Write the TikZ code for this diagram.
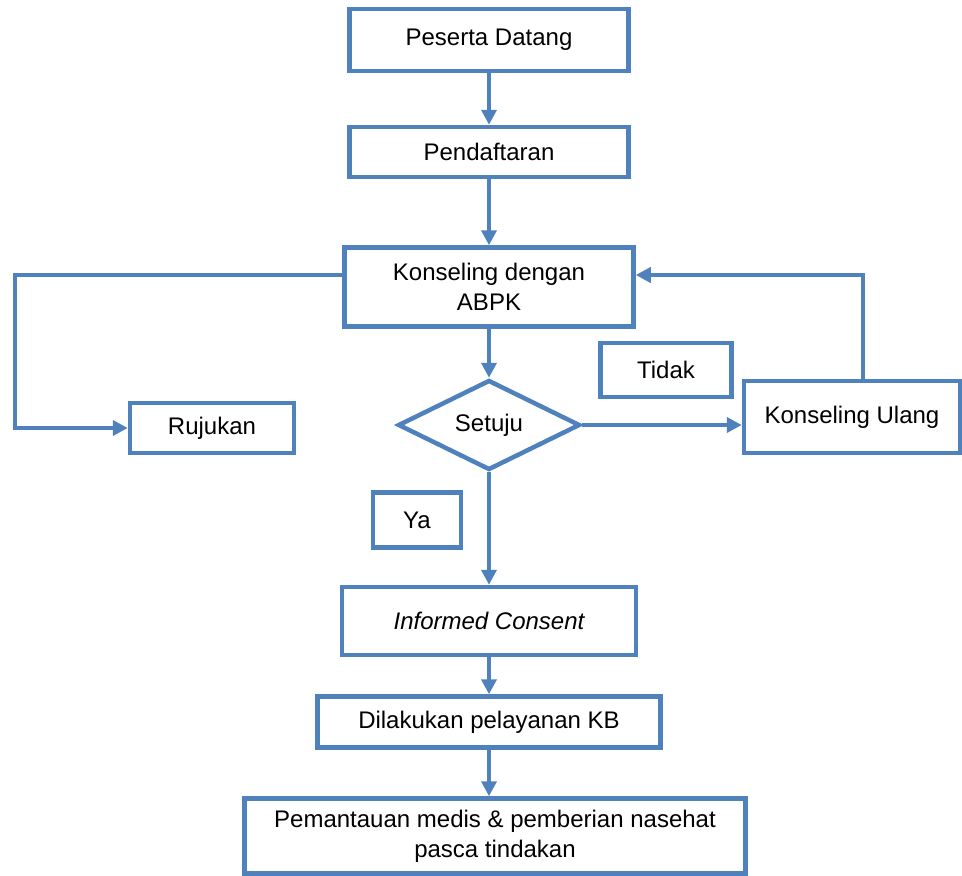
\documentclass[tikz,border=0pt]{standalone}
\usepackage{fontspec}
\setmainfont{Liberation Sans}
\usetikzlibrary{arrows.meta,shapes.geometric,positioning}
\definecolor{garis}{RGB}{79,129,189}

\begin{document}
\begin{tikzpicture}[x=1pt,y=1pt,on grid,
kotak/.style={rectangle,draw=garis,line width=4.5pt,inner sep=0pt,align=center,font=\fontsize{24}{30}\selectfont},
keputusan/.style={diamond,aspect=2,draw=garis,line width=4.5pt,inner sep=0pt,font=\fontsize{24}{30}\selectfont},
panah/.style={-{Triangle[length=15pt,width=15pt]},draw=garis,line width=4.5pt},
garis/.style={draw=garis,line width=4.5pt}]

\useasboundingbox (0,0) rectangle (962,-876);

\node[kotak,minimum width=279pt,minimum height=62pt] (peserta) at (489,-40) {Peserta Datang};
\node[kotak,minimum width=279pt,minimum height=50pt] (daftar) [below=112pt of peserta] {Pendaftaran};
\node[kotak,minimum width=289pt,minimum height=79pt] (konseling) [below=135pt of daftar] {Konseling dengan\\ABPK};
\node[keputusan,minimum width=182pt,minimum height=90pt] (setuju) [below=138pt of konseling] {Setuju};
\node[kotak,minimum width=164pt,minimum height=50pt] (rujukan) [left=277pt of setuju,yshift=-3pt] {Rujukan};
\node[kotak,minimum width=216pt,minimum height=72pt] (ulang) [right=363pt of setuju,yshift=8pt] {Konseling Ulang};
\node[kotak,minimum width=131pt,minimum height=54pt] (tidak) at (666,-370) {Tidak};
\node[kotak,minimum width=88pt,minimum height=55pt] (ya) at (417,-520) {Ya};
\node[kotak,minimum width=294pt,minimum height=68pt] (informed) [below=196pt of setuju] {\itshape Informed Consent};
\node[kotak,minimum width=343pt,minimum height=51pt] (dilakukan) [below=101pt of informed] {Dilakukan pelayanan KB};
\node[kotak,minimum width=501pt,minimum height=75pt] (pantau) [below=114pt of dilakukan,xshift=6pt] {Pemantauan medis \& pemberian nasehat\\pasca tindakan};

\coordinate (kiri) at (15,-275);
\coordinate (kanan) at (863,-275);

\draw[panah] (peserta) -- (daftar);
\draw[panah] (daftar) -- (konseling);
\draw[panah] (konseling) -- (setuju);
\draw[panah] (setuju.east) -- (setuju.east -| ulang.west);
\draw[panah] (setuju) -- (informed);
\draw[panah] (informed) -- (dilakukan);
\draw[panah] (dilakukan.south) -- (dilakukan.south |- pantau.north);
\draw[panah] (konseling.west |- kiri) -- (kiri) |- (rujukan.west);
\draw[panah] (ulang.north -| kanan) -- (kanan) -- (konseling.east |- kanan);
\end{tikzpicture}
\end{document}
